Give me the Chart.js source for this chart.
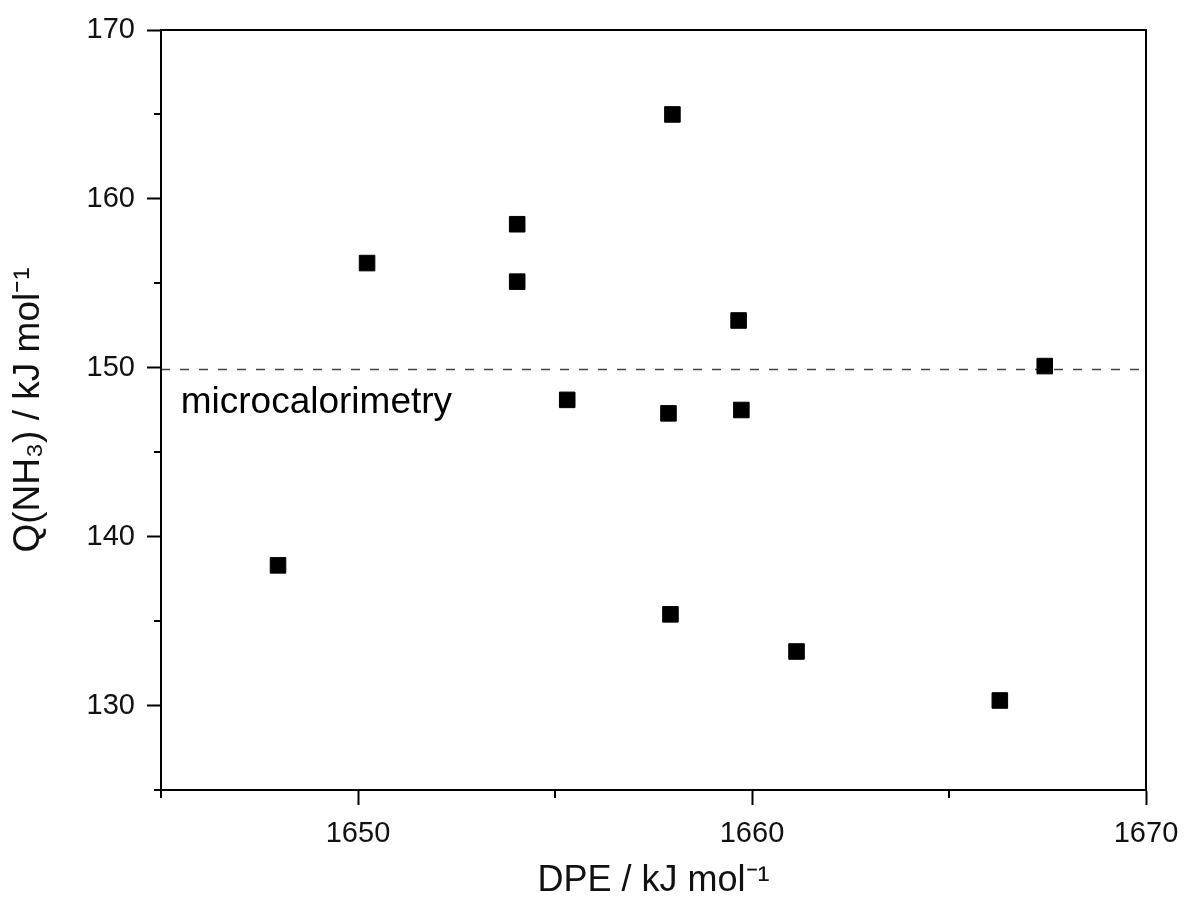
<!DOCTYPE html>
<html>
<head>
<meta charset="utf-8">
<script src="https://cdn.jsdelivr.net/npm/chart.js@4.4.1/dist/chart.umd.min.js"></script>
<style>
    html, body { margin: 0; padding: 0; background: #fff; }
    #wrap { width: 1184px; height: 916px; }
</style>
</head>
<body>
<div id="wrap"><canvas id="dpeChart"></canvas></div>
<script>
// DPE (x) and NH3 adsorption heat (y)
const dpeValues = [1647.97, 1650.23, 1654.04, 1654.04, 1655.31, 1657.88, 1657.93, 1657.98, 1659.66, 1659.73, 1661.13, 1666.29, 1667.43];
const heatValues = [138.3, 156.2, 158.5, 155.1, 148.1, 147.3, 135.4, 165.0, 152.8, 147.5, 133.2, 130.3, 150.1];

// microcalorimetry reference level
const microLevel = 149.9;
const microLabel = 'microcalorimetry';

// axis ticks
const xMajorTicks = [1650, 1660, 1670];
const xMinorTicks = [1645, 1655, 1665];
const yMajorTicks = [130, 140, 150, 160, 170];
const yMinorTicks = [125, 135, 145, 155, 165];

const xRange = [1645, 1670];
const yRange = [125, 170];

const FONT = '"Liberation Sans", Arial, sans-serif';

/**
 * Draws the frame, the short minor ticks and the annotation text.
 */
const framePlugin = {
    id: 'frame',
    afterDraw(chart) {
        const {ctx, chartArea: a, scales: {x, y}} = chart;
        ctx.save();
        ctx.strokeStyle = '#000';
        ctx.lineWidth = 2;
        ctx.strokeRect(a.left, a.top, a.right - a.left, a.bottom - a.top);

        ctx.beginPath();
        xMinorTicks.forEach(v => {
            const px = Math.round(x.getPixelForValue(v));
            ctx.moveTo(px, a.bottom);
            ctx.lineTo(px, a.bottom + 8);
        });
        yMinorTicks.forEach(v => {
            const py = Math.round(y.getPixelForValue(v));
            ctx.moveTo(a.left, py);
            ctx.lineTo(a.left - 7, py);
        });
        ctx.stroke();

        ctx.fillStyle = '#000';
        ctx.font = '37px ' + FONT;
        ctx.textBaseline = 'alphabetic';
        ctx.fillText(microLabel, x.getPixelForValue(1645.5), y.getPixelForValue(147.3));
        ctx.restore();
    }
};

const ctx = document.getElementById('dpeChart').getContext('2d');
const dpeChart = new Chart(ctx, {
    type: 'scatter',
    data: {
        datasets: [{
            label: 'Q(NH3)',
            data: dpeValues.map((v, i) => ({x: v, y: heatValues[i]})),
            pointStyle: 'rect',
            pointRadius: 11,
            pointBackgroundColor: '#000',
            pointBorderColor: '#000',
            pointBorderWidth: 1,
            order: 1
        }, {
            type: 'line',
            label: 'microcalorimetry',
            data: [{x: xRange[0], y: microLevel}, {x: xRange[1], y: microLevel}],
            borderColor: '#444',
            borderWidth: 1.5,
            borderDash: [9, 10],
            pointRadius: 0,
            fill: false,
            order: 2
        }]
    },
    options: {
        responsive: true,
        maintainAspectRatio: false,
        animation: false,
        layout: {
            padding: {top: 30, right: 38, left: 0, bottom: 0}
        },
        plugins: {
            legend: {display: false},
            tooltip: {enabled: false}
        },
        scales: {
            x: {
                type: 'linear',
                min: xRange[0],
                max: xRange[1],
                afterBuildTicks: scale => {
                    scale.ticks = xMajorTicks.map(v => ({value: v}));
                },
                afterFit: scale => {
                    scale.height = 126;
                    scale.paddingRight = 0;
                    scale.paddingLeft = 0;
                },
                grid: {
                    drawOnChartArea: false,
                    drawTicks: true,
                    tickLength: 15,
                    tickWidth: 2,
                    tickColor: '#000'
                },
                border: {display: true, color: '#000', width: 2},
                ticks: {
                    color: '#111',
                    padding: 12,
                    maxRotation: 0,
                    font: {family: FONT, size: 29},
                    callback: v => String(v)
                },
                title: {
                    display: true,
                    text: 'DPE / kJ mol⁻¹',
                    color: '#111',
                    font: {family: FONT, size: 36},
                    padding: {bottom: 13}
                }
            },
            y: {
                type: 'linear',
                min: yRange[0],
                max: yRange[1],
                afterBuildTicks: scale => {
                    scale.ticks = yMajorTicks.map(v => ({value: v}));
                },
                afterFit: scale => {
                    scale.width = 161;
                },
                grid: {
                    drawOnChartArea: false,
                    drawTicks: true,
                    tickLength: 14,
                    tickWidth: 2,
                    tickColor: '#000'
                },
                border: {display: true, color: '#000', width: 2},
                ticks: {
                    color: '#111',
                    padding: 12,
                    font: {family: FONT, size: 29},
                    callback: v => String(v)
                },
                title: {
                    display: true,
                    text: 'Q(NH₃) / kJ mol⁻¹',
                    color: '#111',
                    font: {family: FONT, size: 37},
                    padding: {top: 7}
                }
            }
        }
    },
    plugins: [framePlugin]
});
</script>
</body>
</html>
